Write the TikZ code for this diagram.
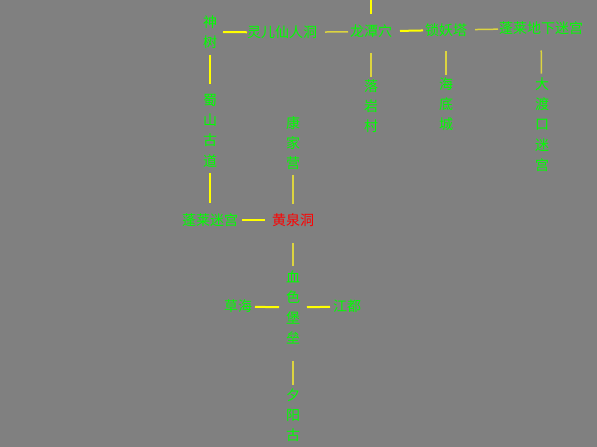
\documentclass[tikz,border=0pt]{standalone}
\usepackage{fontspec}
\setmainfont{Noto Sans CJK SC}
\definecolor{bg}{HTML}{808080}
\definecolor{lbl}{HTML}{00FF00}
\definecolor{hot}{HTML}{FF0000}
\definecolor{lk}{HTML}{FFFF00}
\definecolor{lkdim}{HTML}{DCD440}
\begin{document}
\begin{tikzpicture}[x=1pt,y=-1pt,
  place/.style={inner sep=0pt, outer sep=0pt, text=lbl, font=\fontsize{14}{20.3}\selectfont},
  vplace/.style={place, align=center},
  link/.style={draw=lk, line width=2pt},
  dimlink/.style={draw=lkdim, line width=1.5pt}]
\fill[bg] (0,0) rectangle (597,447);
\useasboundingbox (0,0) rectangle (597,447);

% top row
\node[vplace] (shenshu) at (210,32) {神\\树};
\node[place] (linger) at (282,32.5) {灵儿仙人洞};
\node[place] (longtan) at (371,31.5) {龙潭穴};
\node[place] (suoyao) at (446,30) {锁妖塔};
\node[place] (penglaidx) at (541,28.5) {蓬莱地下迷宫};
\coordinate (toptip) at (371,0);

% columns under the top row
\node[vplace] (luoyan) at (371,106) {落\\岩\\村};
\node[vplace] (haidi) at (446,104) {海\\底\\城};
\node[vplace] (dadukou) at (542,124.5) {大\\渡\\口\\迷\\宫};
\node[vplace] (shushan) at (210,130.5) {蜀\\山\\古\\道};
\node[vplace] (kangjia) at (293,143) {康\\家\\营};

% middle
\node[place] (penglaimg) at (210,220) {蓬莱迷宫};
\node[place, text=hot] (huangquan) at (293,220) {黄泉洞};

% lower
\node[vplace] (xuese) at (293,307.5) {血\\色\\堡\\垒};
\node[place] (caohai) at (238,306.5) {草海};
\node[place] (jiangdu) at (347,306.5) {江都};
\node[vplace] (xiyang) at (293,415) {夕\\阳\\古};

% connectors
\draw[link] (toptip) -- (longtan) [shorten >=11.5pt];
\draw[link, shorten <=6pt, shorten >=0pt] (shenshu) -- (linger);
\draw[dimlink, shorten <=8pt, shorten >=2pt] (linger) -- (longtan);
\draw[link, shorten <=8pt, shorten >=2pt] (longtan) -- (suoyao);
\draw[dimlink, shorten <=8pt, shorten >=1pt] (suoyao) -- (penglaidx);
\draw[dimlink, shorten <=15.5pt, shorten >=2.7pt] (longtan) -- (luoyan);
\draw[dimlink, shorten <=15pt, shorten >=2.7pt] (suoyao) -- (haidi);
\draw[dimlink, shorten <=15.5pt, shorten >=3.9pt] (penglaidx) -- (dadukou);
\draw[link, shorten <=6pt, shorten >=10pt] (shenshu) -- (shushan);
\draw[link, shorten <=6pt, shorten >=11pt] (shushan) -- (penglaimg);
\draw[link, shorten <=4pt, shorten >=7pt] (penglaimg) -- (huangquan);
\draw[dimlink, shorten <=4.7pt, shorten >=10pt] (kangjia) -- (huangquan);
\draw[dimlink, shorten <=17pt, shorten >=4.5pt] (huangquan) -- (xuese);
\draw[link, shorten <=3pt, shorten >=7pt] (caohai) -- (xuese);
\draw[link, shorten <=7pt, shorten >=3pt] (xuese) -- (jiangdu);
\draw[dimlink, shorten <=16.5pt, shorten >=3.7pt] (xuese) -- (xiyang);
\end{tikzpicture}
\end{document}
